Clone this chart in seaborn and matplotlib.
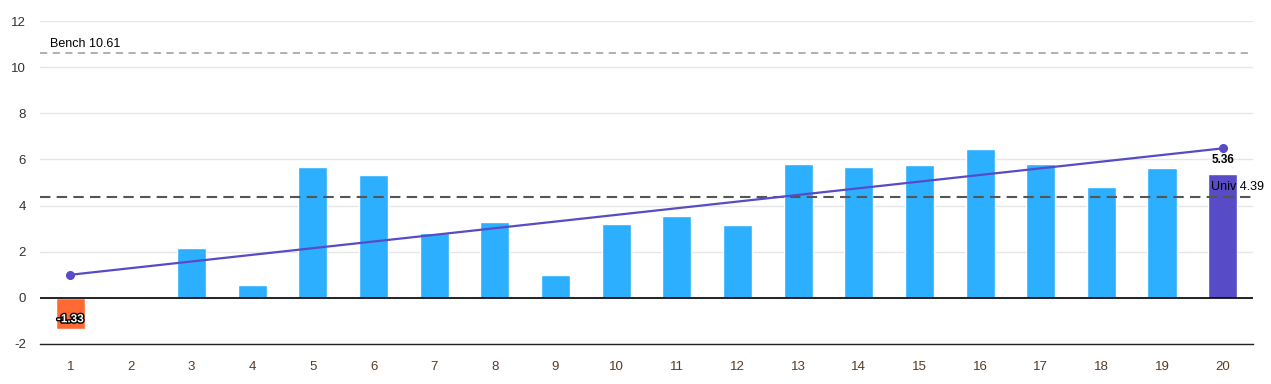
import matplotlib
matplotlib.use("Agg")
import matplotlib.pyplot as plt
import matplotlib.patheffects as pe
import seaborn as sns
import pandas as pd

categories = [str(i) for i in range(1, 21)]
values = [-1.33, 0.0, 2.15, 0.55, 5.68, 5.33, 2.8, 3.28, 0.98, 3.19,
          3.54, 3.15, 5.79, 5.67, 5.76, 6.45, 5.79, 4.81, 5.63, 5.36]
trend_start = 1.0
trend_end = 6.48
univ = 4.39
bench = 10.61
yticks = [-2, 0, 2, 4, 6, 8, 10, 12]

BLUE = "#2BAFFE"
NEG = "#FF6A33"
LAST = "#574BC6"

colors = []
for i, v in enumerate(values):
    if i == len(values) - 1:
        colors.append(LAST)
    elif v < 0:
        colors.append(NEG)
    else:
        colors.append(BLUE)

df = pd.DataFrame({"cat": categories, "val": values})

sns.set_theme(style="white")
plt.rcParams["font.family"] = ["Liberation Sans", "DejaVu Sans"]
plt.rcParams["axes.unicode_minus"] = False

fig = plt.figure(figsize=(12.71, 3.84), dpi=100)
ax = fig.add_axes([40 / 1271, 1 - 344 / 384, (1253 - 40) / 1271, (344 - 21) / 384])

sns.barplot(data=df, x="cat", y="val", hue="cat", palette=colors, legend=False,
            width=0.48, ax=ax, saturation=1, zorder=3)

ax.set_xlim(-0.5, len(categories) - 0.5)
ax.set_ylim(-2, 12)
ax.set_yticks(yticks)
ax.grid(axis="y", color="#e6e6e6", linewidth=1, zorder=0)
ax.set_axisbelow(True)
for s in ["left", "right", "top"]:
    ax.spines[s].set_visible(False)
ax.spines["bottom"].set_color("#222222")
ax.spines["bottom"].set_linewidth(1)
ax.axhline(0, color="black", linewidth=1.2, zorder=4)
ax.tick_params(axis="both", length=0, labelsize=9.5)
ax.tick_params(axis="x", colors="#5a3a22", pad=12)
ax.tick_params(axis="y", colors="#333333", pad=10)
for t in ax.get_xticklabels():
    t.set_color("#5a3a22")
ax.set_xlabel("")
ax.set_ylabel("")

# reference lines
ax.axhline(bench, color="#aaaaaa", linestyle=(0, (4, 3)), linewidth=1.3, zorder=2)
ax.axhline(univ, color="#555555", linestyle=(0, (5, 3)), linewidth=1.5, zorder=5)
ax.text(-0.33, bench + 0.15, f"Bench {bench:.2f}", fontsize=9, color="black",
        ha="left", va="bottom", zorder=6)
ax.text(19.68, univ + 0.15, f"Univ {univ:.2f}", fontsize=9, color="black",
        ha="right", va="bottom", zorder=6, clip_on=False)

# trend line
n = len(categories)
ax.plot([0, n - 1], [trend_start, trend_end], color="#574BC6", linewidth=1.6,
        marker="o", markersize=5.5, zorder=7)

# value labels
ax.text(n - 1, values[-1] + 0.35, f"{values[-1]:.2f}", ha="center", va="bottom",
        fontsize=8.5, fontweight="bold", color="black", zorder=8)
ax.text(0, -0.93, f"{values[0]:.2f}", ha="center", va="center", fontsize=8.5,
        fontweight="bold", color="white", zorder=8,
        path_effects=[pe.withStroke(linewidth=2, foreground="black")])

fig.savefig("out.png", dpi=100)
